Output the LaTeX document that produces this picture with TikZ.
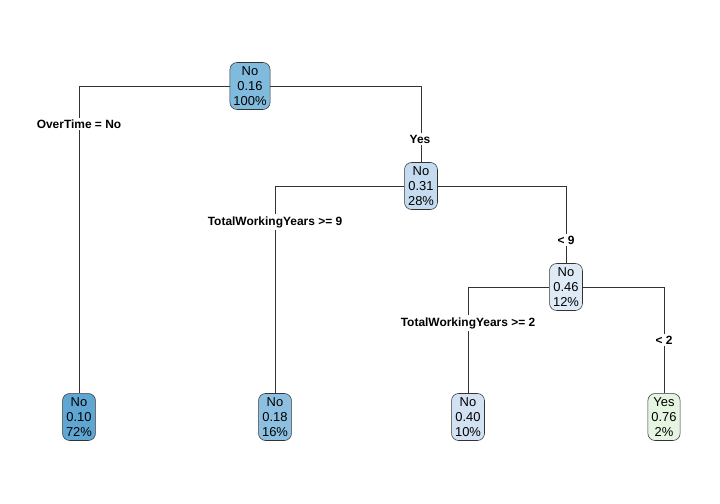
\documentclass[tikz,border=0pt]{standalone}
\usepackage{fontspec}
\setmainfont{Liberation Sans}
\definecolor{rootblue}{RGB}{128,187,221}
\definecolor{midblue}{RGB}{196,219,240}
\definecolor{paleblue}{RGB}{222,235,247}
\definecolor{deepblue}{RGB}{96,166,211}
\definecolor{leafblue}{RGB}{141,192,224}
\definecolor{lightblue}{RGB}{210,226,243}
\definecolor{palegreen}{RGB}{230,245,225}
\tikzset{
    treenode/.style={draw=black!80, rounded corners=5pt, align=center, inner xsep=2.5pt, inner ysep=3pt, font=\fontsize{9.2}{10.5}\selectfont},
    splitlabel/.style={fill=white, inner sep=1.5pt, font=\fontsize{8.5}{10}\selectfont\bfseries},
    branch/.style={draw=black!80, line width=0.5pt}
}
\begin{document}
\begin{tikzpicture}[x=0.025cm, y=-0.025cm]
        \useasboundingbox (0,0) rectangle (720,504);

        % Inner nodes
        \node[treenode, fill=rootblue] (root) at (250,86) {No\\0.16\\100\%};
        \node[treenode, fill=midblue] (n2) at (421,186) {No\\0.31\\28\%};
        \node[treenode, fill=paleblue] (n3) at (566,287) {No\\0.46\\12\%};

        % Leaves
        \node[treenode, fill=deepblue] (l1) at (79,417) {No\\0.10\\72\%};
        \node[treenode, fill=leafblue] (l2) at (275,417) {No\\0.18\\16\%};
        \node[treenode, fill=lightblue] (l3) at (468,417) {No\\0.40\\10\%};
        \node[treenode, fill=palegreen] (l4) at (664,417) {Yes\\0.76\\2\%};

        % Branches
        \draw[branch] (root.west) -| (l1.north);
        \draw[branch] (root.east) -| (n2.north);
        \draw[branch] (n2.west) -| (l2.north);
        \draw[branch] (n2.east) -| (n3.north);
        \draw[branch] (n3.west) -| (l3.north);
        \draw[branch] (n3.east) -| (l4.north);

        % Split labels
        \node[splitlabel] (s1) at (79,124) {OverTime = No};
        \node[splitlabel] (s2) at (420,139) {Yes};
        \node[splitlabel] (s3) at (275,222) {TotalWorkingYears >= 9};
        \node[splitlabel] (s4) at (566,240) {< 9};
        \node[splitlabel] (s5) at (468,323) {TotalWorkingYears >= 2};
        \node[splitlabel] (s6) at (664,340) {< 2};
\end{tikzpicture}
\end{document}
